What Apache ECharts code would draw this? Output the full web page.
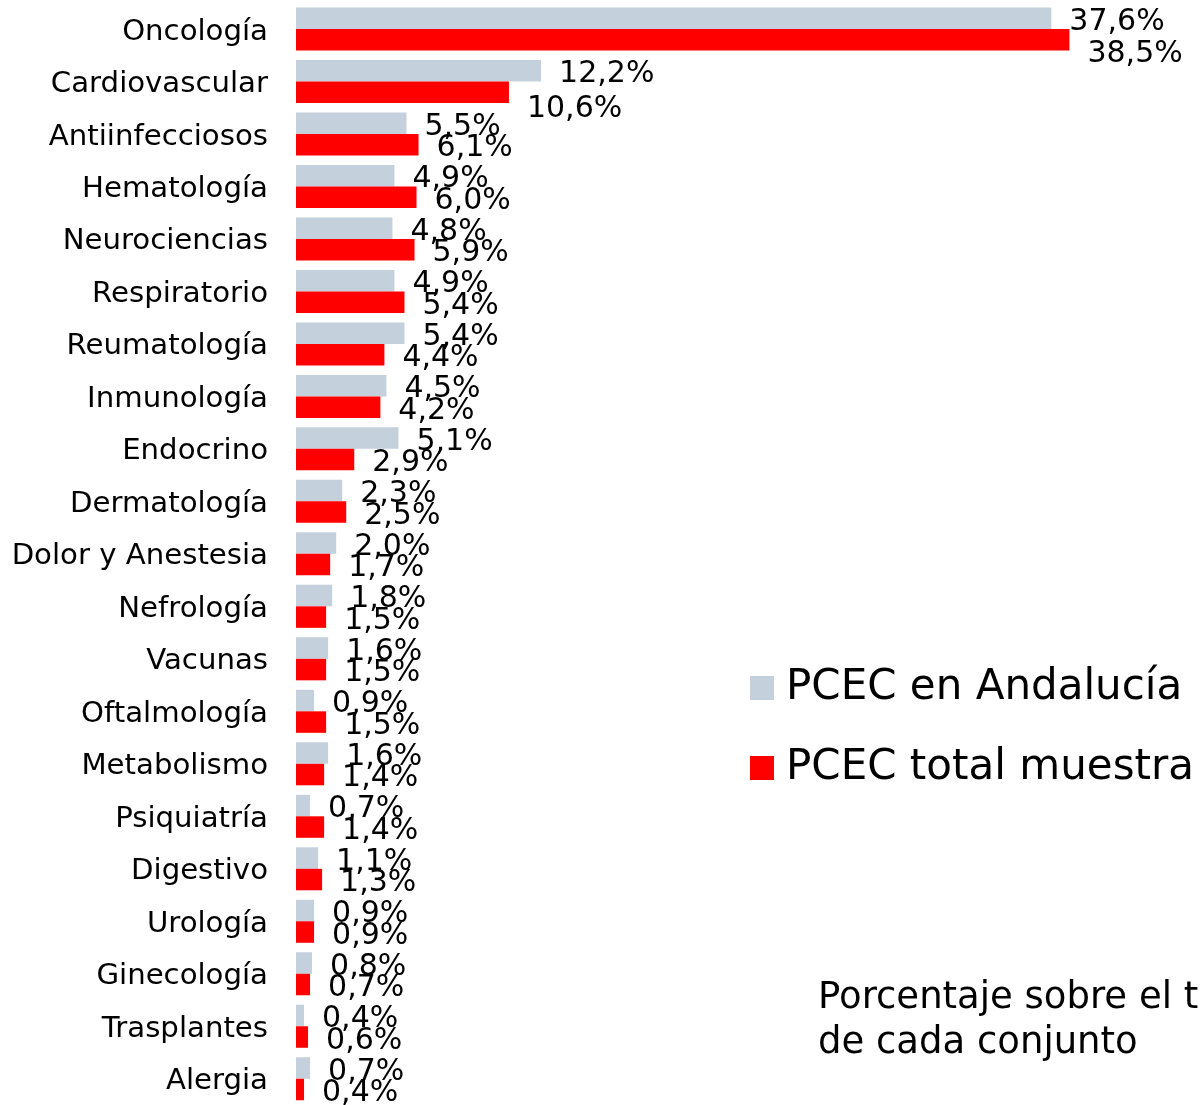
<!DOCTYPE html>
<html>
<head>
<meta charset="utf-8">
<script src="https://cdn.jsdelivr.net/npm/echarts@6/dist/echarts.min.js"></script>
<style>
html,body{margin:0;padding:0;background:#fff;}
#chart{width:1200px;height:1105px;}
</style>
</head>
<body>
<div id="chart"></div>
<script>
const categories = ['Oncología','Cardiovascular','Antiinfecciosos','Hematología','Neurociencias','Respiratorio','Reumatología','Inmunología','Endocrino','Dermatología','Dolor y Anestesia','Nefrología','Vacunas','Oftalmología','Metabolismo','Psiquiatría','Digestivo','Urología','Ginecología','Trasplantes','Alergia'];
const andalucia = [37.6,12.2,5.5,4.9,4.8,4.9,5.4,4.5,5.1,2.3,2.0,1.8,1.6,0.9,1.6,0.7,1.1,0.9,0.8,0.4,0.7];
const totalMuestra = [38.5,10.6,6.1,6.0,5.9,5.4,4.4,4.2,2.9,2.5,1.7,1.5,1.5,1.5,1.4,1.4,1.3,0.9,0.7,0.6,0.4];
const seriesNames = ['PCEC en Andalucía','PCEC total muestra'];
const noteText = 'Porcentaje sobre el total\nde cada conjunto';

const FONT = '"DejaVu Sans", Verdana, sans-serif';
const fmt = p => p.value.toFixed(1).replace('.', ',') + '%';

// red labels of the two largest bars were moved down in the original
const redLabelShift = {0: 15, 1: 17};
const redData = totalMuestra.map((v, i) => redLabelShift[i] !== undefined
  ? {value: v, label: {offset: [0, redLabelShift[i]]}}
  : v);

const chart = echarts.init(document.getElementById('chart'), null, {renderer:'canvas'});
chart.setOption({
  animation:false,
  backgroundColor:'#ffffff',
  textStyle:{fontFamily:FONT},
  grid:{left:296, top:2.7, height:1105.6, width:904.8, containLabel:false},
  xAxis:{type:'value', min:0, max:45, show:false},
  yAxis:{
    type:'category', data:categories, inverse:true,
    axisLine:{show:false}, axisTick:{show:false},
    axisLabel:{
      color:'#000', margin:28,
      formatter: v => '{c|' + v + '}',
      rich:{c:{fontSize:29.2, color:'#000', fontFamily:FONT, padding:[6,0,0,0]}}
    }
  },
  legend:{
    orient:'vertical', left:745, top:662,
    itemWidth:24, itemHeight:24, itemGap:38,
    icon:'rect',
    textStyle:{fontSize:42, color:'#000', fontFamily:FONT, padding:[0,0,0,7]},
    data:seriesNames
  },
  graphic:[{
    type:'text', left:818, top:976,
    style:{text:noteText, font:'37px ' + FONT, fill:'#000', lineHeight:45}
  }],
  series:[
    {name:seriesNames[0], type:'bar', data:andalucia, barWidth:21.5, barGap:'0%',
     itemStyle:{color:'#c4d0dc'},
     label:{show:true, position:'right', distance:18, offset:[0,4], fontSize:30, color:'#000', fontFamily:FONT, formatter:fmt}},
    {name:seriesNames[1], type:'bar', data:redData, barWidth:21.5, barGap:'0%',
     itemStyle:{color:'#ff0000'},
     label:{show:true, position:'right', distance:18, offset:[0,4], fontSize:30, color:'#000', fontFamily:FONT, formatter:fmt}}
  ]
});
</script>
</body>
</html>
